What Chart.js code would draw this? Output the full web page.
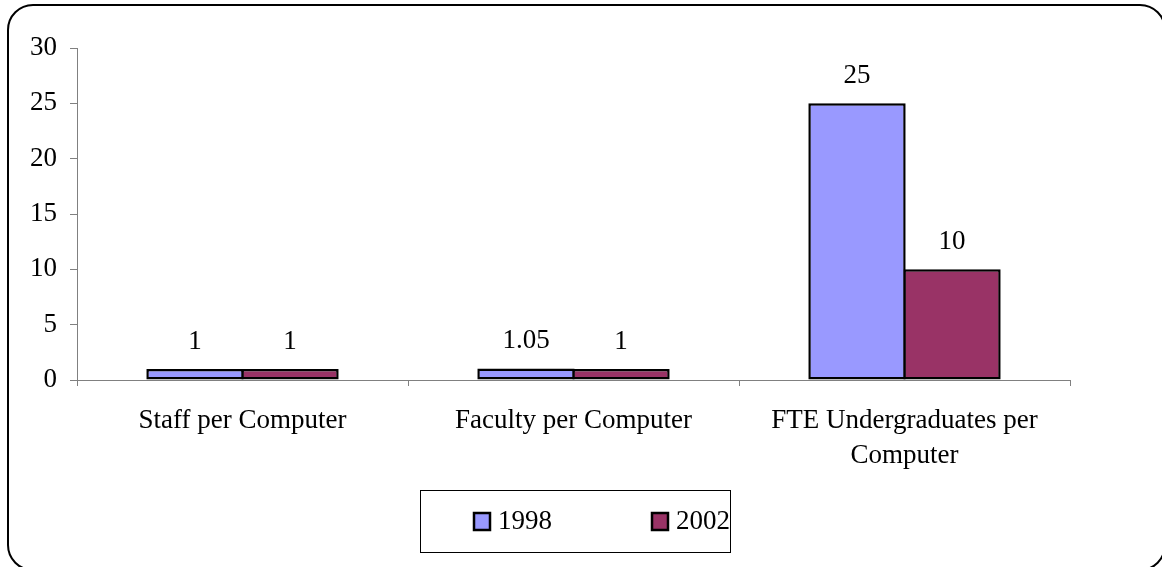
<!DOCTYPE html>
<html>
<head>
<meta charset="utf-8">
<script src="https://cdn.jsdelivr.net/npm/chart.js@4.4.1/dist/chart.umd.min.js"></script>
<style>
  html, body { margin: 0; padding: 0; background: #fff; overflow: hidden; }
  #wrap { position: relative; width: 1162px; height: 567px; }
  #frame {
    position: absolute; left: 7px; top: 4px; width: 1159px; height: 567px;
    box-sizing: border-box; border: 2px solid #000; border-radius: 26px;
    pointer-events: none;
  }
  canvas { position: absolute; left: 0; top: 0; }
</style>
</head>
<body>
<div id="wrap">
  <canvas id="ratioChart" width="1162" height="567"></canvas>
  <div id="frame"></div>
</div>
<script>
// categories and series
const categories = ['Staff per Computer', 'Faculty per Computer', ['FTE Undergraduates per', 'Computer']];
const years = ['1998', '2002'];
const values1998 = [1, 1.05, 25];
const values2002 = [1, 1, 10];
const yTicks = [0, 5, 10, 15, 20, 25, 30];
const barColors = ['#9999FF', '#993366'];

const FONT_FAMILY = "'Liberation Serif', 'Times New Roman', serif";
const FONT_SIZE = 27;
const AXIS_GRAY = '#808080';

// numbers above each bar
const valueLabels = {
  id: 'valueLabels',
  afterDatasetsDraw(chart) {
    const ctx = chart.ctx;
    ctx.save();
    ctx.font = FONT_SIZE + 'px ' + FONT_FAMILY;
    ctx.fillStyle = '#000';
    ctx.textAlign = 'center';
    ctx.textBaseline = 'alphabetic';
    chart.data.datasets.forEach((ds, i) => {
      chart.getDatasetMeta(i).data.forEach((bar, j) => {
        ctx.fillText(String(ds.data[j]), bar.x, bar.y - 20);
      });
    });
    ctx.restore();
  }
};

// legend in a bordered box under the axis
const boxedLegend = {
  id: 'boxedLegend',
  afterDraw(chart) {
    const { ctx, chartArea } = chart;
    const w = 310, h = 62;
    const cx = (chartArea.left + chartArea.right) / 2 + 1;
    const x0 = Math.round(cx - w / 2), y0 = Math.round(chartArea.bottom + 110);
    ctx.save();
    ctx.strokeStyle = '#000';
    ctx.lineWidth = 1;
    ctx.strokeRect(x0 + 0.5, y0 + 0.5, w, h);
    ctx.font = FONT_SIZE + 'px ' + FONT_FAMILY;
    ctx.textBaseline = 'middle';
    ctx.textAlign = 'left';
    chart.data.datasets.forEach((ds, i) => {
      const sx = x0 + 54 + i * 178;
      const sy = y0 + h / 2;
      ctx.fillStyle = ds.backgroundColor;
      ctx.fillRect(sx, sy - 8, 16, 17);
      ctx.lineWidth = 2.5;
      ctx.strokeStyle = '#000';
      ctx.strokeRect(sx, sy - 8, 16, 17);
      ctx.fillStyle = '#000';
      ctx.fillText(ds.label, sx + 24, sy + 1);
    });
    ctx.restore();
  }
};

const series = [values1998, values2002];

new Chart(document.getElementById('ratioChart'), {
  type: 'bar',
  data: {
    labels: categories,
    datasets: years.map((year, i) => ({
      label: year,
      data: series[i],
      backgroundColor: barColors[i],
      borderColor: '#000',
      borderWidth: 2.5,
      borderSkipped: false,
      categoryPercentage: 0.574,
      // slight overlap so neighbouring bars share one edge
      barPercentage: 1.025
    }))
  },
  options: {
    responsive: false,
    animation: false,
    layout: { padding: { top: 48, right: 92, left: 0, bottom: 0 } },
    plugins: {
      legend: { display: false },
      tooltip: { enabled: false }
    },
    scales: {
      x: {
        offset: true,
        grid: { drawOnChartArea: false, drawTicks: true, tickLength: 6, color: AXIS_GRAY, offset: true },
        border: { color: AXIS_GRAY, width: 1 },
        ticks: {
          color: '#000',
          padding: 17,
          maxRotation: 0,
          autoSkip: false,
          font: { family: FONT_FAMILY, size: FONT_SIZE, lineHeight: 1.3 }
        },
        afterFit(scale) { scale.height = 187; }
      },
      y: {
        min: 0,
        max: 30,
        afterBuildTicks(scale) { scale.ticks = yTicks.map(v => ({ value: v })); },
        grid: { drawOnChartArea: false, drawTicks: true, tickLength: 7, color: AXIS_GRAY },
        border: { color: AXIS_GRAY, width: 1 },
        ticks: {
          color: '#000',
          padding: 13,
          font: { family: FONT_FAMILY, size: FONT_SIZE }
        },
        afterFit(scale) { scale.width = 77; }
      }
    }
  },
  plugins: [valueLabels, boxedLegend]
});
</script>
</body>
</html>
